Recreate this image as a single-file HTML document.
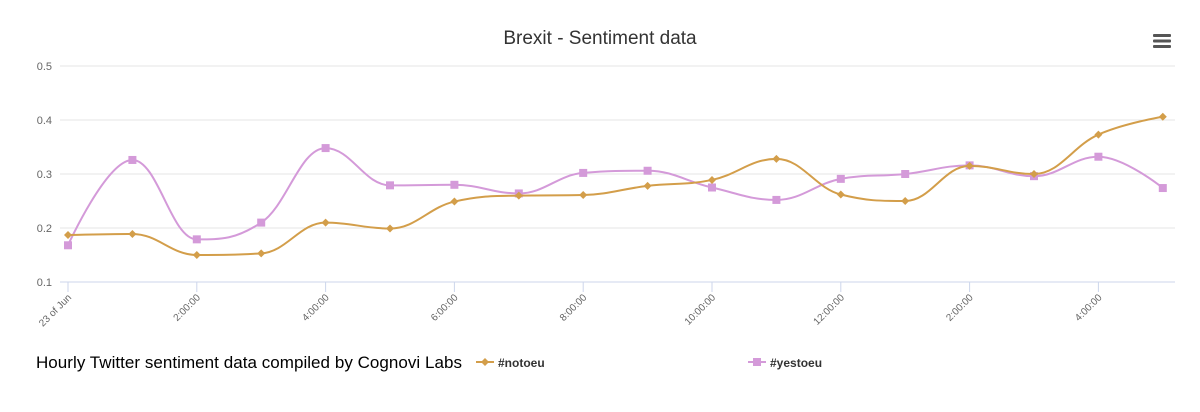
<!DOCTYPE html>
<html><head><meta charset="utf-8"><style>
body{margin:0;background:#fff;}
svg{display:block;font-family:"Liberation Sans",sans-serif;}
</style></head><body>
<svg id="chart" width="1200" height="412">
<text x="600" y="44" text-anchor="middle" font-size="19" fill="#333">Brexit - Sentiment data</text>
<g fill="#555">
<rect x="1153" y="34" width="18" height="3" rx="1"/><rect x="1153" y="39.5" width="18" height="3" rx="1"/><rect x="1153" y="45" width="18" height="3" rx="1"/>
</g>
<g id="grid"></g><g id="xaxis"></g><g id="series"></g>
<text x="36" y="368" font-size="17" textLength="426" fill="#000">Hourly Twitter sentiment data compiled by Cognovi Labs</text>
<g>
<line x1="476" y1="362" x2="494" y2="362" stroke="#d39e4a" stroke-width="2"/>
<path d="M485 358 L489 362 L485 366 L481 362 Z" fill="#d39e4a"/>
<text x="498" y="367" font-size="12" font-weight="bold" fill="#333">#notoeu</text>
</g>
<g>
<line x1="748" y1="362" x2="766" y2="362" stroke="#d49ad9" stroke-width="2"/>
<rect x="753" y="358" width="8" height="8" fill="#d49ad9"/>
<text x="770" y="367" font-size="12" font-weight="bold" fill="#333">#yestoeu</text>
</g>
</svg>
<script>
const categories=["23 of Jun","1:00:00","2:00:00","3:00:00","4:00:00","5:00:00","6:00:00","7:00:00","8:00:00","9:00:00","10:00:00","11:00:00","12:00:00","1:00:00","2:00:00","3:00:00","4:00:00","5:00:00"];
const notoeu=[0.187,0.189,0.150,0.153,0.210,0.199,0.249,0.260,0.261,0.278,0.289,0.328,0.262,0.250,0.315,0.300,0.373,0.406];
const yestoeu=[0.168,0.326,0.179,0.210,0.348,0.279,0.280,0.264,0.302,0.306,0.275,0.252,0.291,0.300,0.316,0.296,0.332,0.274];
const yTicks=[0.1,0.2,0.3,0.4,0.5];
const NS="http://www.w3.org/2000/svg";
const x0=68,dx=64.4,yBase=282,yPer=540,plotL=60,plotR=1175;
const xs=i=>x0+i*dx, ys=v=>yBase-(v-0.1)*yPer;
function mk(t,a,p){const e=document.createElementNS(NS,t);for(const k in a)e.setAttribute(k,a[k]);p.appendChild(e);return e;}
const grid=document.getElementById('grid');
yTicks.forEach(v=>{
 const l=mk('line',{x1:plotL,x2:plotR,y1:ys(v),y2:ys(v),stroke:v===0.1?'#ccd6eb':'#e6e6e6'},grid);
 
 
 const t=mk('text',{x:52,y:ys(v)+4,'text-anchor':'end','font-size':11,fill:'#666'},grid);
 t.textContent=String(v);
 
 
});
const xa=document.getElementById('xaxis');
categories.forEach((c,i)=>{
 if(i%2)return;
 const x=xs(i);
 const tk=mk('line',{x1:x,x2:x,y1:282,y2:292,stroke:'#ccd6eb'},xa);
 
 
 const t=mk('text',{x:x+4,y:298,'text-anchor':'end','font-size':10,fill:'#666',transform:`rotate(-45 ${x+4} 298)`},xa);
 t.textContent=c;
 
 
});
function spline(vals){
 const p=vals.map((v,i)=>[xs(i),ys(v)]);let d=`M${p[0][0]} ${p[0][1]}`;const s=1.5;
 for(let i=1;i<p.length;i++){
  const a=p[i-1],b=p[i];
  const cp=(k)=>{ if(k<=0||k>=p.length-1)return null;
   const pr=p[k-1],c=p[k],n=p[k+1];
   let lx=(s*c[0]+pr[0])/(s+1),ly=(s*c[1]+pr[1])/(s+1),rx=(s*c[0]+n[0])/(s+1),ry=(s*c[1]+n[1])/(s+1);
   if(rx!==lx){const cor=((ry-ly)*(rx-c[0]))/(rx-lx)+c[1]-ry;ly+=cor;ry+=cor;}
   if(ly>pr[1]&&ly>c[1]){ly=Math.max(pr[1],c[1]);ry=2*c[1]-ly;}else if(ly<pr[1]&&ly<c[1]){ly=Math.min(pr[1],c[1]);ry=2*c[1]-ly;}
   if(ry>n[1]&&ry>c[1]){ry=Math.max(n[1],c[1]);ly=2*c[1]-ry;}else if(ry<n[1]&&ry<c[1]){ry=Math.min(n[1],c[1]);ly=2*c[1]-ry;}
   return [lx,ly,rx,ry];};
  const ca=cp(i-1),cb=cp(i);
  const c1=ca?[ca[2],ca[3]]:a, c2=cb?[cb[0],cb[1]]:b;
  d+=` C${c1[0]} ${c1[1]} ${c2[0]} ${c2[1]} ${b[0]} ${b[1]}`;
 }
 return d;
}
const sg=document.getElementById('series');
[[yestoeu,'#d49ad9','sq','yestoeu'],[notoeu,'#d39e4a','dm','notoeu']].forEach(([vals,col,m,nm])=>{
 const path=mk('path',{d:spline(vals),fill:'none',stroke:col,'stroke-width':2},sg);
 
 
 vals.forEach((v,i)=>{
  const x=xs(i),y=ys(v);let e;
  if(m==='sq')e=mk('rect',{x:x-4,y:y-4,width:8,height:8,fill:col},sg);
  else e=mk('path',{d:`M${x} ${y-4}L${x+4} ${y}L${x} ${y+4}L${x-4} ${y}Z`,fill:col},sg);
  
  
 });
});
</script>
</body></html>
